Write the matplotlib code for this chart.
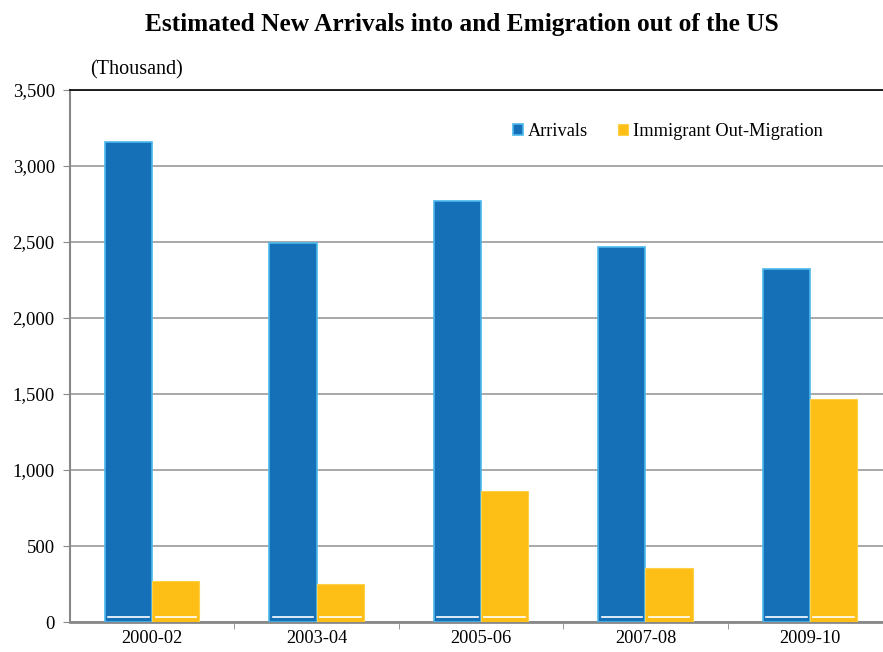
import numpy as np
import matplotlib.pyplot as plt

periods = ['2000-02', '2003-04', '2005-06', '2007-08', '2009-10']
arrivals = [3160, 2495, 2770, 2465, 2320]
out_migration = [270, 250, 865, 355, 1465]

plt.rcParams['font.family'] = 'Liberation Serif'

fig = plt.figure(figsize=(8.83, 6.52), dpi=100)
ax = fig.add_axes([0.0793, 0.046, 0.931, 0.816])

x = np.arange(len(periods))
w = 0.287
b1 = ax.bar(x - w / 2, arrivals, w, color='#1570b8', edgecolor='#4cb8ec', linewidth=1.2,
            label='Arrivals', zorder=3)
b2 = ax.bar(x + w / 2, out_migration, w, color='#fdbf16', edgecolor='#fdd04a', linewidth=0.8,
            label='Immigrant Out-Migration', zorder=3)
# thin white line near the bottom of every bar
for bars in (b1, b2):
    for r in bars:
        ax.plot([r.get_x() + 0.02, r.get_x() + r.get_width() - 0.02], [35, 35],
                color='white', lw=1.2, zorder=4)

ax.set_xlim(-0.5, len(periods) - 0.5)
ax.set_ylim(0, 3500)
ax.set_yticks(np.arange(0, 3501, 500))
ax.set_yticklabels([f'{v:,}' for v in range(0, 3501, 500)], fontsize=13.5)
ax.set_xticks(x)
ax.set_xticklabels(periods, fontsize=13.2)
ax.set_xticks(np.arange(0.5, len(periods) - 0.5, 1), minor=True)
ax.tick_params(axis='x', which='major', length=0, pad=6)
ax.tick_params(axis='x', which='minor', length=5, color='#888888')
ax.tick_params(axis='y', length=5, color='#888888', pad=6)

ax.grid(axis='y', color='#999999', lw=1.2, zorder=0)
ax.spines['right'].set_visible(False)
ax.spines['top'].set_color('black')
ax.spines['top'].set_linewidth(1.2)
ax.spines['left'].set_color('#888888')
ax.spines['left'].set_linewidth(1.5)
ax.spines['bottom'].set_color('#888888')
ax.spines['bottom'].set_linewidth(2)

ax.legend(loc='upper right', bbox_to_anchor=(0.916, 0.938), ncol=2, frameon=False,
          fontsize=13.2, handlelength=0.55, handleheight=0.55, handletextpad=0.3,
          columnspacing=1.6, borderpad=0, borderaxespad=0)

fig.text(0.523, 0.963, 'Estimated New Arrivals into and Emigration out of the US',
         ha='center', va='center', fontsize=18.3, fontweight='bold')
fig.text(0.102, 0.893, '(Thousand)', ha='left', va='center', fontsize=14.5)

plt.savefig('out.png', dpi=100)
